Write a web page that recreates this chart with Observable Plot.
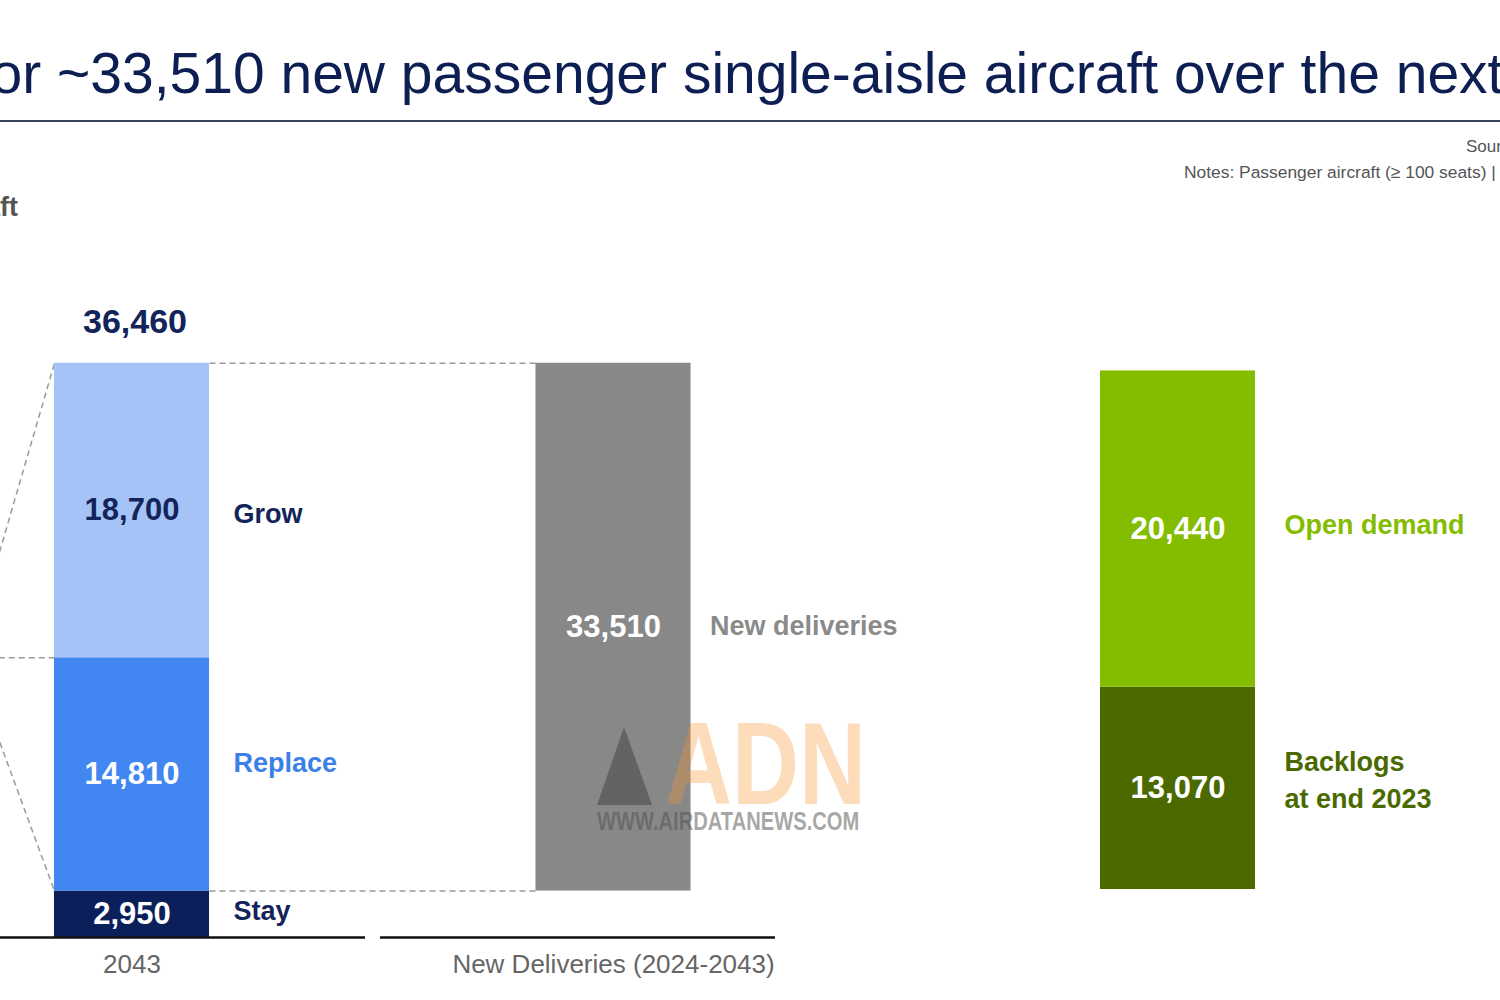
<!DOCTYPE html>
<html>
<head>
<meta charset="utf-8">
<script src="https://cdn.jsdelivr.net/npm/d3@7"></script>
<script src="https://cdn.jsdelivr.net/npm/@observablehq/plot@0.6"></script>
<style>
  html, body { margin: 0; padding: 0; background: #fff; }
  #page { position: relative; width: 1500px; height: 1000px; overflow: hidden; background: #fff;
          font-family: "Liberation Sans", Arial, sans-serif; }
  .abs { position: absolute; white-space: nowrap; }
  #page svg.chart { position: absolute; left: 0; top: 0; }
</style>
</head>
<body>
<div id="page">
  <div class="abs" id="titlePre" style="right:1443px; top:40px; font-size:57px; color:#0c1e52;">Demand for&nbsp;</div>
  <div class="abs" id="titleMain" style="left:57px; top:40px; font-size:57px; color:#0c1e52;">~33,510 new passenger single-aisle aircraft over the next 20 years</div>
  <div class="abs" style="left:0; top:120px; width:1500px; height:2px; background:#34445c;"></div>
  <div class="abs" style="left:1466px; top:137px; font-size:17px; color:#555;">Source: Airbus GMF</div>
  <div class="abs" style="left:1184px; top:162px; font-size:17.4px; color:#555;">Notes: Passenger aircraft (≥ 100 seats) | Rounded figures</div>
  <div class="abs" style="right:1482px; top:192px; font-size:27px; font-weight:bold; color:#555;">Aircraft</div>
</div>
<script>
// ---------------- data ----------------
const fleetCategories = ["2043", "New Deliveries (2024-2043)"];
const fleet2043Segments = ["Stay", "Replace", "Grow"];
const fleet2043Values = [2950, 14810, 18700];
const newDeliveriesLabel = "New deliveries";
const newDeliveriesValue = 33510;
const demandSegments = ["Backlogs\nat end 2023", "Open demand"];
const demandValues = [13070, 20440];

// ---------------- styles ----------------
const fills = {"Stay": "#0b1f5b", "Replace": "#4287f1", "Grow": "#a5c3f6", "New deliveries": "#888888",
               "Backlogs\nat end 2023": "#4a6a00", "Open demand": "#84bd00"};
const valueFills = {"Stay": "#ffffff", "Replace": "#ffffff", "Grow": "#13245a", "New deliveries": "#ffffff",
                    "Backlogs\nat end 2023": "#ffffff", "Open demand": "#ffffff"};
const labelFills = {"Stay": "#13245a", "Replace": "#3b7fe9", "Grow": "#13245a", "New deliveries": "#8a8a8a",
                    "Backlogs\nat end 2023": "#4a6a00", "Open demand": "#84bd00"};
const labelDy = {"Stay": -3, "Replace": -11, "Grow": 4, "New deliveries": -1,
                 "Backlogs\nat end 2023": -11, "Open demand": -7};
const fmt = d3.format(",");
const font = "Liberation Sans, Arial, sans-serif";

// ---------------- layout (slots) ----------------
const slot = {"2023": 0, "2043": 1, "New Deliveries (2024-2043)": 3};
const hw = 0.322;             // half bar width in slot units
const slotPx = 240.75;
const xa = 1 - 131.5 / slotPx;
const xb = xa + 1500 / slotPx;

// ---------------- derived rows ----------------
const cum = d3.cumsum(fleet2043Values);
const segRows = fleet2043Segments.map((s, i) => ({seg: s, value: fleet2043Values[i], y1: cum[i] - fleet2043Values[i], y2: cum[i]}));
const total2043 = d3.sum(fleet2043Values);
const stay = fleet2043Values[0];
const existing = fleet2043Values[0] + fleet2043Values[1];
const delivRow = {seg: newDeliveriesLabel, value: newDeliveriesValue, y1: stay, y2: stay + newDeliveriesValue};
const s43 = slot["2043"], sND = slot["New Deliveries (2024-2043)"], s23 = slot["2023"];

const connectors = [
  {x1: s43 + hw, y1: total2043, x2: sND - hw, y2: total2043},
  {x1: s43 + hw, y1: stay, x2: sND - hw, y2: stay},
  {x1: s23 + hw, y1: existing, x2: s43 - hw, y2: total2043},
  {x1: s23 + hw, y1: existing, x2: s43 - hw, y2: existing},
  {x1: s23 + hw, y1: existing, x2: s43 - hw, y2: stay}
];
const axisSegments = [
  {x1: xa - 1, x2: 1.97},
  {x1: 2.032, x2: sND + 0.673}
];

const chart1 = Plot.plot({
  width: 1500, height: 1000,
  marginLeft: 0, marginRight: 0, marginTop: 307, marginBottom: 63,
  x: {type: "linear", domain: [xa, xb], axis: null},
  y: {domain: [0, 40000], axis: null},
  color: {type: "identity"},
  style: {background: "transparent", fontFamily: font, maxWidth: "none", overflow: "hidden"},
  marks: [
    Plot.link(connectors, {x1: "x1", y1: "y1", x2: "x2", y2: "y2", stroke: "#9a9a9a", strokeWidth: 1.5, strokeDasharray: "6,4"}),
    Plot.rect(segRows, {x1: () => s43 - hw, x2: () => s43 + hw, y1: "y1", y2: "y2", fill: d => fills[d.seg]}),
    Plot.rect([delivRow], {x1: () => sND - hw, x2: () => sND + hw, y1: "y1", y2: "y2", fill: d => fills[d.seg]}),
    Plot.ruleY(axisSegments, {y: () => 0, x1: "x1", x2: "x2", stroke: "#111", strokeWidth: 2.5}),
    Plot.text(segRows, {x: () => s43, y: d => (d.y1 + d.y2) / 2, text: d => fmt(d.value), fill: d => valueFills[d.seg], fontSize: 31, fontWeight: "bold"}),
    ...segRows.map(r => Plot.text([r], {x: () => s43 + hw, y: d => (d.y1 + d.y2) / 2, dx: 24, dy: labelDy[r.seg], text: "seg", textAnchor: "start", fill: d => labelFills[d.seg], fontSize: 27, fontWeight: "bold"})),
    Plot.text([delivRow], {x: () => sND, y: d => (d.y1 + d.y2) / 2, text: d => fmt(d.value), fill: d => valueFills[d.seg], fontSize: 31, fontWeight: "bold"}),
    Plot.text([delivRow], {x: () => sND + hw, y: d => (d.y1 + d.y2) / 2, dx: 19, dy: labelDy[newDeliveriesLabel], text: "seg", textAnchor: "start", fill: d => labelFills[d.seg], fontSize: 27, fontWeight: "bold"}),
    Plot.text([total2043], {x: () => s43, y: d => d, dy: -41, dx: 3, text: d => fmt(d), fill: "#13245a", fontSize: 34, fontWeight: "bold"}),
    Plot.text(fleetCategories, {x: d => slot[d], y: () => 0, dy: 27, text: d => d, fill: "#666", fontSize: 26})
  ]
});
chart1.classList.add("chart");

const dcum = d3.cumsum(demandValues);
const demandRows = demandSegments.map((s, i) => ({seg: s, value: demandValues[i], y1: dcum[i] - demandValues[i], y2: dcum[i]}));
const demandColumn = "Demand";

const chart2 = Plot.plot({
  width: 1500, height: 1000,
  marginLeft: 1100, marginRight: 245, marginTop: 270, marginBottom: 111,
  x: {type: "band", domain: [demandColumn], padding: 0, axis: null},
  y: {domain: [0, 40000], axis: null},
  color: {type: "identity"},
  style: {background: "transparent", fontFamily: font, maxWidth: "none"},
  marks: [
    Plot.barY(demandRows, {x: () => demandColumn, y1: "y1", y2: "y2", fill: d => fills[d.seg]}),
    Plot.text(demandRows, {x: () => demandColumn, y: d => (d.y1 + d.y2) / 2, text: d => fmt(d.value), fill: d => valueFills[d.seg], fontSize: 31, fontWeight: "bold"}),
    ...demandRows.map(r => Plot.text([r], {x: () => demandColumn, y: d => (d.y1 + d.y2) / 2, dx: 106.5, dy: labelDy[r.seg], text: "seg", textAnchor: "start", lineHeight: 1.37, fill: d => labelFills[d.seg], fontSize: 27, fontWeight: "bold"}))
  ]
});
chart2.classList.add("chart");

const page = document.getElementById("page");
page.appendChild(chart1);
page.appendChild(chart2);

// watermark overlay
const wm = document.createElement("div");
wm.innerHTML = `
  <div class="abs" style="left:597px; top:727px; width:0; height:0; border-left:27px solid transparent; border-right:28px solid transparent; border-bottom:78px solid rgba(70,70,70,0.55);"></div>
  <div class="abs" style="left:665px; top:722px; height:84px; font-size:116px; line-height:84px; font-weight:bold; color:rgba(245,150,50,0.33); transform:scaleX(0.8); transform-origin:left top;">ADN</div>
  <div class="abs" style="left:597px; top:808px; font-size:25px; line-height:26px; font-weight:bold; color:rgba(80,80,80,0.5); transform:scaleX(0.806); transform-origin:left top;">WWW.AIRDATANEWS.COM</div>`;
page.appendChild(wm);
</script>
</body>
</html>
